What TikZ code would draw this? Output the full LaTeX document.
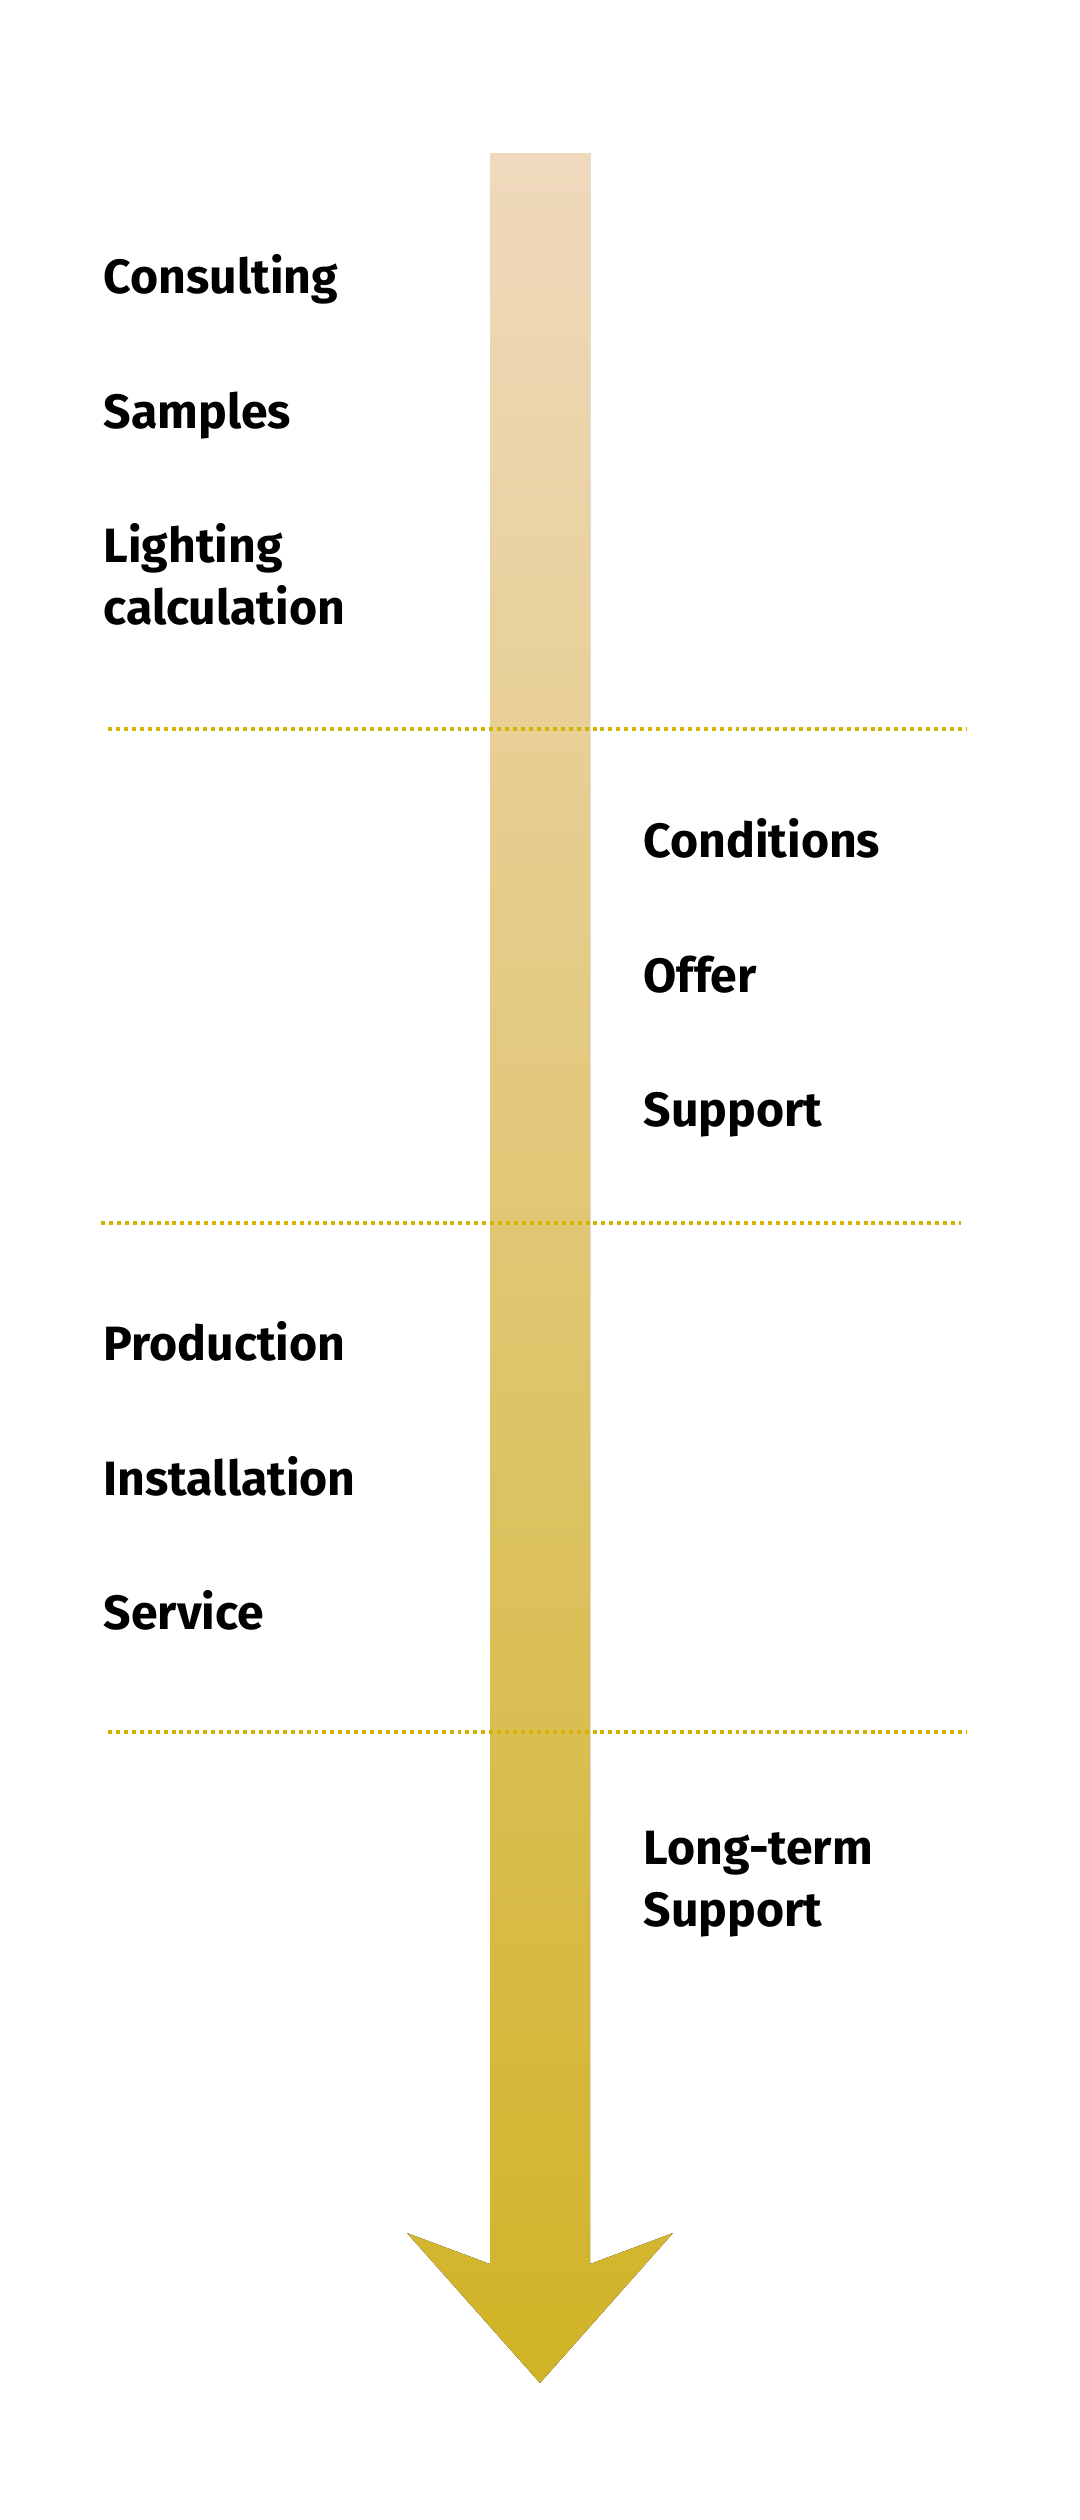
\documentclass[tikz,border=0pt]{standalone}
\usepackage{fontspec}
\setmainfont{Fira Sans}

\definecolor{arrowTop}{RGB}{239,217,189}
\definecolor{arrowBottom}{RGB}{209,179,38}
\definecolor{lineGold}{RGB}{214,178,0}

\newcommand*{\xMin}{0}
\newcommand*{\xMax}{10.8}
\newcommand*{\yMin}{-25.2}
\newcommand*{\yMax}{0}
\newcommand*{\xLeft}{1.03}
\newcommand*{\xRight}{6.43}

\tikzset{
  item/.style={anchor=base west, inner sep=0pt, align=left,
    font=\fontsize{13.7}{17.6}\selectfont\bfseries},
  sepline/.style={lineGold, line width=1.13pt, dash pattern=on 1.13pt off 1.13pt},
}

\begin{document}
\begin{tikzpicture}
    \path [fill=white,use as bounding box] (\xMin,\yMin) rectangle (\xMax,\yMax) ;

    % arrow
    \fill [top color=arrowTop, bottom color=arrowBottom]
        (4.90,-1.53) -- (5.90,-1.53) -- (5.90,-22.64) -- (6.73,-22.33)
        -- (5.40,-23.83) -- (4.07,-22.33) -- (4.90,-22.64) -- cycle ;

    % separators
    \foreach \y/\a/\b in {7.29/1.08/9.67,12.23/1.01/9.61,17.32/1.08/9.67} {
        \draw [sepline] (\a,-\y) -- (\b,-\y) ;
    }

    \node [item] (consult) at (\xLeft,-2.93) {Consulting};
    \node [item] (samples) at (\xLeft,-4.28) {Samples};
    \node [item] (lighting) at (\xLeft,-6.24) {Lighting\\calculation};

    \node [item] (conditions) at (\xRight,-8.57) {Conditions};
    \node [item] (offer) at (\xRight,-9.92) {Offer};
    \node [item] (support) at (\xRight,-11.26) {Support};

    \node [item] (production) at (\xLeft,-13.60) {Production};
    \node [item] (installation) at (\xLeft,-14.95) {Installation};
    \node [item] (service) at (\xLeft,-16.29) {Service};

    \node [item] (longterm) at (\xRight,-19.26) {Long-term\\Support};
\end{tikzpicture}
\end{document}
